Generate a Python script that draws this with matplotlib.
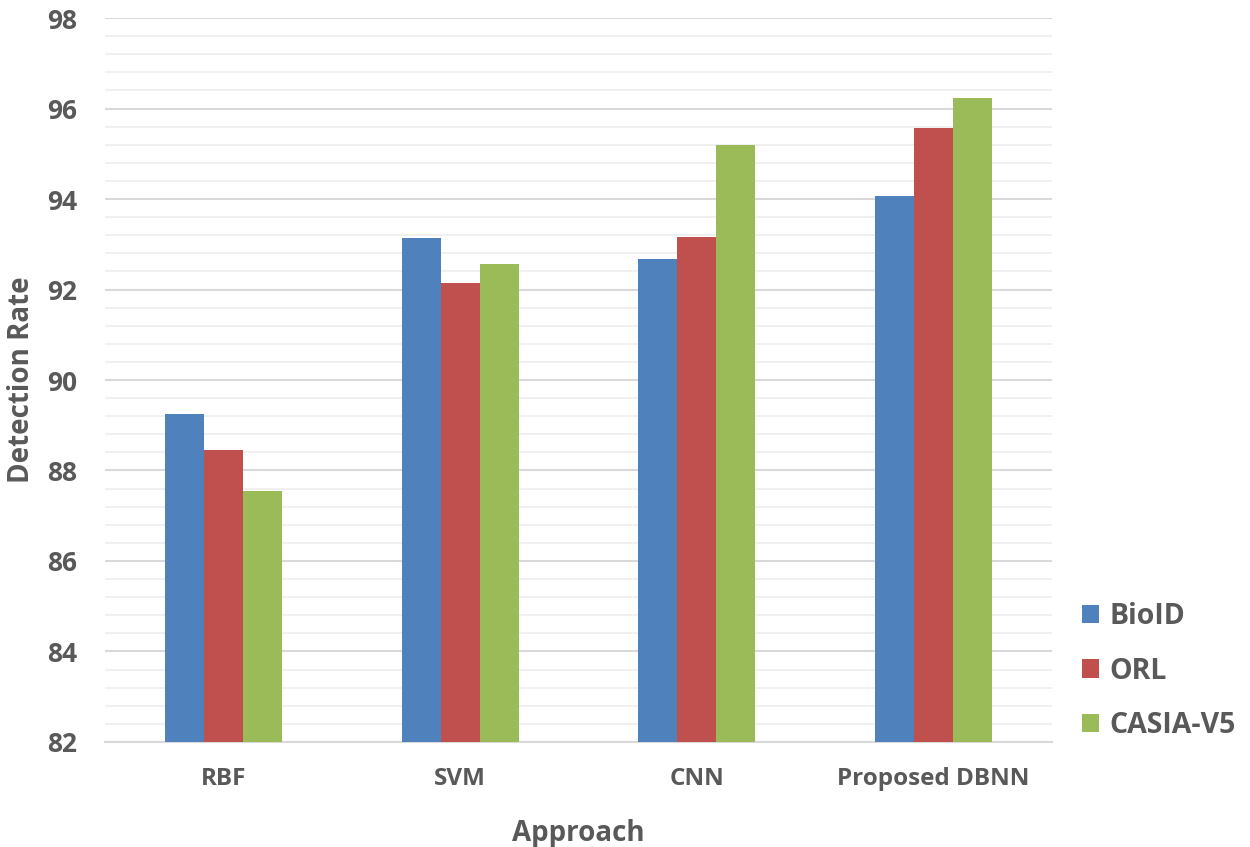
import matplotlib.pyplot as plt
import numpy as np
from matplotlib.ticker import MultipleLocator

# datos
enfoques = ['RBF', 'SVM', 'CNN', 'Proposed DBNN']
series = ['BioID', 'ORL', 'CASIA-V5']
bioid = [89.25, 93.14, 92.67, 94.07]
orl = [88.45, 92.14, 93.16, 95.57]
casia = [87.55, 92.56, 95.19, 96.23]
colores = ['#4F81BD', '#C0504D', '#9BBB59']

plt.rcParams['font.family'] = ['Open Sans', 'DejaVu Sans']
gris = '#595959'

fig = plt.figure(figsize=(12.5, 8.47), dpi=100)
ax = fig.add_axes([0.084, 0.124, 0.7576, 0.8547])

x = np.arange(len(enfoques))
w = 0.165
for i, (vals, nombre) in enumerate(zip([bioid, orl, casia], series)):
    ax.bar(x + (i - 1) * w, np.array(vals) - 82, w, bottom=82,
           color=colores[i], label=nombre, zorder=3)

ax.set_ylim(82, 98)
ax.set_xlim(-0.5, 3.5)
ax.yaxis.set_major_locator(MultipleLocator(2))
ax.yaxis.set_minor_locator(MultipleLocator(0.4))
ax.grid(axis='y', which='major', color='#d9d9d9', linewidth=1.5, zorder=0)
ax.grid(axis='y', which='minor', color='#eeeeee', linewidth=1.2, zorder=0)
for s in ['top', 'right', 'left']:
    ax.spines[s].set_visible(False)
ax.spines['bottom'].set_color('#d9d9d9')
ax.spines['bottom'].set_linewidth(1.5)
ax.tick_params(axis='both', which='both', length=0)
ax.tick_params(axis='y', pad=20, labelsize=19, labelcolor=gris)
ax.tick_params(axis='x', pad=18, labelsize=17.5, labelcolor=gris)
ax.set_xticks(x)
ax.set_xticklabels(enfoques)
for t in ax.get_xticklabels() + ax.get_yticklabels():
    t.set_fontweight('bold')

ax.set_xlabel('Approach', fontsize=20, fontweight='bold', color=gris, labelpad=20)
ax.set_ylabel('Detection Rate', fontsize=20, fontweight='bold', color=gris)
ax.yaxis.set_label_coords(-0.073, 0.5)

leg = ax.legend(loc='center left', bbox_to_anchor=(1.02, 0.098), frameon=False,
                borderaxespad=0, prop={'size': 20.5, 'weight': 'bold'},
                handlelength=0.6, handleheight=0.6, labelspacing=0.88,
                handletextpad=0.35)
for t in leg.get_texts():
    t.set_color(gris)

fig.savefig('out.png', dpi=100)
